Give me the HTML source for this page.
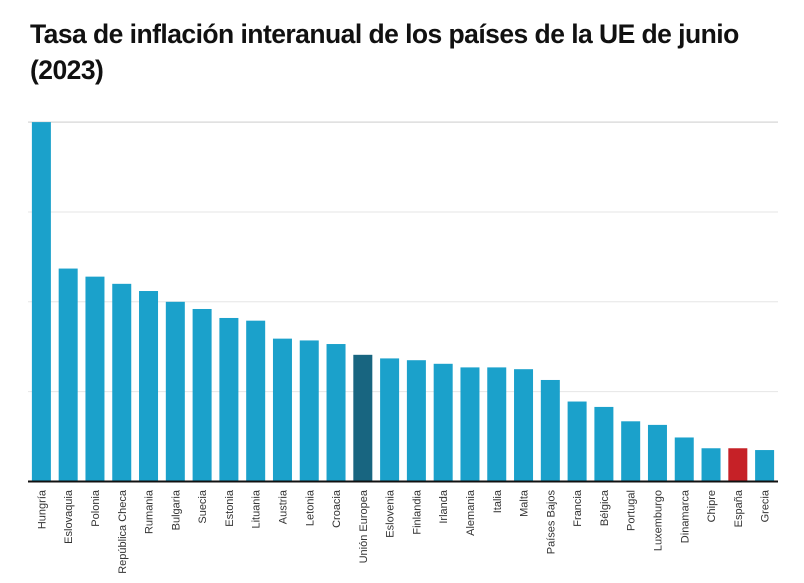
<!DOCTYPE html>
<html><head><meta charset="utf-8"><style>
body{margin:0;background:#fff;width:804px;height:583px;overflow:hidden;font-family:"Liberation Sans",sans-serif}
h1{position:absolute;left:30px;top:16px;margin:0;font-size:26.5px;line-height:36px;font-weight:bold;color:#111;letter-spacing:-0.55px;width:735px}
</style></head><body>
<h1>Tasa de inflación interanual de los países de la UE de junio (2023)</h1>
<svg id="chart" width="804" height="583" style="position:absolute;left:0;top:0"></svg>
<script>
const categories=["Hungría","Eslovaquia","Polonia","República Checa","Rumania","Bulgaria","Suecia","Estonia","Lituania","Austria","Letonia","Croacia","Unión Europea","Eslovenia","Finlandia","Irlanda","Alemania","Italia","Malta","Países Bajos","Francia","Bélgica","Portugal","Luxemburgo","Dinamarca","Chipre","España","Grecia"];
const values=[20.0,11.85,11.4,11.0,10.6,10.0,9.6,9.1,8.95,7.95,7.85,7.65,7.05,6.85,6.75,6.55,6.35,6.35,6.25,5.65,4.45,4.15,3.35,3.15,2.45,1.85,1.85,1.75];
const gridTicks=[5,10,15,20];
const svg=document.getElementById('chart');
const NS='http://www.w3.org/2000/svg';
const x0=28,x1=778,yBase=481.5,pxPerUnit=17.97;
const band=(x1-x0)/categories.length,barW=19;
const y=v=>yBase-v*pxPerUnit;
const xb=i=>x0+i*band+(band-barW)/2;
gridTicks.forEach(t=>{
  const l=document.createElementNS(NS,'line');
  
  
  l.setAttribute('x1',x0);l.setAttribute('x2',x1);
  l.setAttribute('y1',y(t));l.setAttribute('y2',y(t));
  l.setAttribute('stroke',t===20?'#ddd':'#e6e6e6');l.setAttribute('stroke-width',t===20?1.5:1);
  svg.appendChild(l);
});
categories.forEach((c,i)=>{
  const r=document.createElementNS(NS,'rect');
  
  
  r.setAttribute('x',xb(i));r.setAttribute('width',barW);
  r.setAttribute('y',y(values[i]));r.setAttribute('height',yBase-y(values[i]));
  r.setAttribute('fill',c==='España'?'#c62127':c==='Unión Europea'?'#186580':'#1ba1cb');
  svg.appendChild(r);
  const t=document.createElementNS(NS,'text');
  
  
  const cx=xb(i)+barW/2+4;
  t.setAttribute('transform','translate('+cx+',490) rotate(-90)');
  t.setAttribute('text-anchor','end');
  t.setAttribute('font-size','11');
  t.setAttribute('fill','#333');
  t.textContent=c;
  svg.appendChild(t);
});
const b=document.createElementNS(NS,'line');


b.setAttribute('x1',x0);b.setAttribute('x2',x1);b.setAttribute('y1',yBase);b.setAttribute('y2',yBase);
b.setAttribute('stroke','#111');b.setAttribute('stroke-width','2');
svg.appendChild(b);
</script>
</body></html>
